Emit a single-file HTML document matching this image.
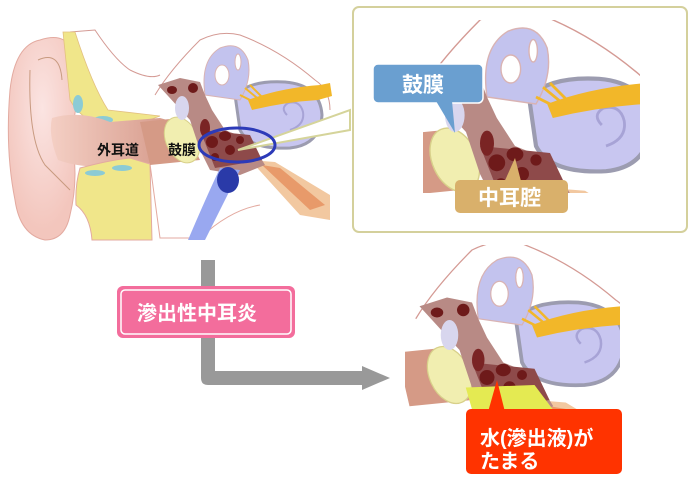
<!DOCTYPE html>
<html><head><meta charset="utf-8"><style>
html,body{margin:0;padding:0;background:#fff;width:700px;height:480px;overflow:hidden}
svg{display:block}
.lab{font-family:"Liberation Sans","Noto Sans CJK JP",sans-serif;font-weight:bold}
</style></head><body>
<svg width="700" height="480" viewBox="0 0 700 480" xmlns="http://www.w3.org/2000/svg">
<defs>
<radialGradient id="pg" cx="0.5" cy="0.35" r="0.6"><stop offset="0" stop-color="#fbe4e2"/><stop offset="1" stop-color="#f3c6bd"/></radialGradient>
<linearGradient id="cg" x1="0" x2="1" y1="0" y2="0"><stop offset="0" stop-color="#f4cfc4"/><stop offset="1" stop-color="#d09080"/></linearGradient>
<g id="mid">
  <path d="M155 95 Q170 70 200 40 Q220 30 240 35 Q280 50 315 80 Q330 90 330 110" fill="none" stroke="#d49a94" stroke-width="1"/>
  <path d="M140 122 L180 118 L200 160 L150 165 Z" fill="#d59a86"/>
  <ellipse cx="182" cy="140" rx="16" ry="24" transform="rotate(-25 182 140)" fill="#f1eeb0" stroke="#d8d08a"/>
  <path d="M250 160 L275 162 L330 195 L330 220 L300 215 Z" fill="#f2c8a0"/>
  <path d="M262 165 L280 168 L325 205 L310 210 Z" fill="#e89a6a"/>
  <path d="M235 95 Q250 80 285 82 Q320 85 322 115 Q320 145 290 148 Q250 150 240 130 Z" fill="#c8c6f0" stroke="#9c9cb0" stroke-width="3"/>
  <path d="M290 130 Q305 125 303 112 Q300 100 288 103 Q280 108 287 115" fill="none" stroke="#a7a3d6" stroke-width="2"/>
  <path d="M205 95 Q200 60 220 48 Q240 40 248 60 Q252 80 240 100 Z" fill="#c3c3ee" stroke="#d9b3b3"/>
  <ellipse cx="222" cy="75" rx="7" ry="10" fill="#fff" stroke="#d9b3b3"/>
  <ellipse cx="238" cy="62" rx="3" ry="8" fill="#fff" stroke="#d9b3b3"/>
  <path d="M248 100 Q280 88 320 85 L330 83 L332 96 L318 100 Q285 102 252 110 Z" fill="#f2b729"/>
  <path d="M240 95 L260 105 M245 88 L262 102 M250 85 L265 100" stroke="#f2b729" stroke-width="2"/>
  <path d="M158 85 L180 78 L200 82 L205 95 L212 110 L225 130 L250 140 L265 165 L240 175 L210 170 L200 150 L190 120 Z" fill="#b88a85"/>
  <path d="M200 130 L250 135 L262 160 L215 168 Z" fill="#8e4a4a"/>
  <ellipse cx="172" cy="90" rx="5" ry="4" fill="#6e1a1a"/>
  <ellipse cx="193" cy="88" rx="5" ry="5" fill="#6e1a1a"/>
  <ellipse cx="182" cy="108" rx="7" ry="12" fill="#d8d6ee"/>
  <ellipse cx="205" cy="128" rx="5" ry="9" fill="#7a2424"/>
  <ellipse cx="212" cy="142" rx="6" ry="6" fill="#6e1a1a"/>
  <ellipse cx="225" cy="136" rx="6" ry="5" fill="#6e1a1a"/>
  <ellipse cx="230" cy="150" rx="5" ry="5" fill="#6e1a1a"/>
  <ellipse cx="215" cy="157" rx="4" ry="4" fill="#6e1a1a"/>
  <ellipse cx="240" cy="140" rx="4" ry="4" fill="#6e1a1a"/>
</g>
<clipPath id="c1"><rect x="423" y="20" width="217" height="173"/></clipPath>
<clipPath id="c2"><rect x="405" y="245" width="215" height="165"/></clipPath>
</defs>

<!-- LEFT ear -->
<path d="M70 32 L95 30 Q115 60 130 70 Q150 80 160 75" fill="none" stroke="#d49a94"/>
<path d="M40 40 Q70 30 75 60 Q80 110 70 130 Q80 175 70 215 Q65 240 45 240 Q20 235 15 200 Q5 150 10 90 Q15 45 40 40 Z" fill="url(#pg)" stroke="#e3aaa0"/>
<path d="M38 60 Q60 50 62 80 M30 70 Q28 140 45 165 Q60 180 70 190" fill="none" stroke="#c89a80"/>
<path d="M63 32 L75 32 Q92 85 108 110 L160 116 Q130 128 100 125 Q80 118 70 100 Q68 80 63 32 Z" fill="#f0e68a" stroke="#e3c080" stroke-width="0.8"/>
<ellipse cx="78" cy="104" rx="5" ry="9" fill="#8ccbd5"/>
<ellipse cx="103" cy="120" rx="10" ry="4" fill="#8ccbd5"/>
<path d="M52 118 Q80 110 110 122 L160 118 L185 125 L195 160 L125 165 Q85 170 58 160 Q48 135 52 118 Z" fill="url(#cg)"/>
<path d="M80 168 Q110 160 130 158 L150 164 L152 240 L92 240 Q90 215 76 205 Q75 185 80 168 Z" fill="#f0e68a" stroke="#e3aaa0"/>
<ellipse cx="95" cy="173" rx="10" ry="3" fill="#8ccbd5"/>
<ellipse cx="122" cy="168" rx="10" ry="3" fill="#8ccbd5"/>
<path d="M150 164 L160 238 L200 238 Q230 210 260 205" fill="none" stroke="#e3aaa0"/>
<use href="#mid"/>
<path d="M220 168 L240 170 Q225 200 205 240 L188 240 Q205 200 220 168 Z" fill="#99a8f0"/>
<ellipse cx="228" cy="180" rx="11" ry="13" fill="#2a3aa8"/>
<path d="M238 150 L350 110 L350 130 Z" fill="#fff" stroke="#d5d49a" stroke-width="2"/>
<ellipse cx="237" cy="145" rx="38" ry="17" fill="none" stroke="#2c3ab8" stroke-width="3"/>
<text x="97" y="155" class="lab" font-size="14" fill="#111">外耳道</text>
<text x="168" y="155" class="lab" font-size="14" fill="#111">鼓膜</text>

<!-- top right box -->
<rect x="353" y="7" width="334" height="225" rx="6" fill="#fff" stroke="#d4d09c" stroke-width="2"/>
<g clip-path="url(#c1)"><g transform="translate(200 -36) scale(1.4)"><use href="#mid"/></g></g>
<rect x="373" y="64" width="110" height="39" rx="5" fill="#6a9fd0" stroke="#fff" stroke-width="1.5"/>
<path d="M436 101 L452 101 L455 133 Z" fill="#6a9fd0"/>
<text x="402" y="92" class="lab" font-size="21" fill="#fff">鼓膜</text>
<path d="M503 185 L515 158 L522 185 Z" fill="#d9b06b"/>
<rect x="455" y="180" width="113" height="33" rx="5" fill="#d9b06b"/>
<text x="478" y="205" class="lab" font-size="21" fill="#fff">中耳腔</text>

<!-- arrow -->
<path d="M201 260 L215 260 L215 371 L362 371 L362 366 L390 378 L362 390 L362 385 L208 385 Q201 385 201 378 Z" fill="#999"/>
<rect x="117" y="286" width="178" height="52" rx="6" fill="#f36d9c"/>
<rect x="121" y="290" width="170" height="44" rx="4" fill="none" stroke="#fff" stroke-width="1.5"/>
<text x="137" y="320" class="lab" font-size="20" fill="#fff">滲出性中耳炎</text>

<!-- bottom -->
<g clip-path="url(#c2)"><g transform="translate(222 200) scale(1.25)"><use href="#mid"/>
<path d="M195 150 L250 148 L265 168 L300 195 L310 210 L240 185 L205 185 Z" fill="#e4ea52"/>
</g></g>
<path d="M488 412 L505 412 L497 380 Z" fill="#ff3300"/>
<rect x="466" y="409" width="156" height="65" rx="5" fill="#ff3300"/>
<text x="480" y="445" class="lab" font-size="20" fill="#fff">水(滲出液)が</text>
<text x="480" y="468" class="lab" font-size="20" fill="#fff">たまる</text>
</svg>
</body></html>
